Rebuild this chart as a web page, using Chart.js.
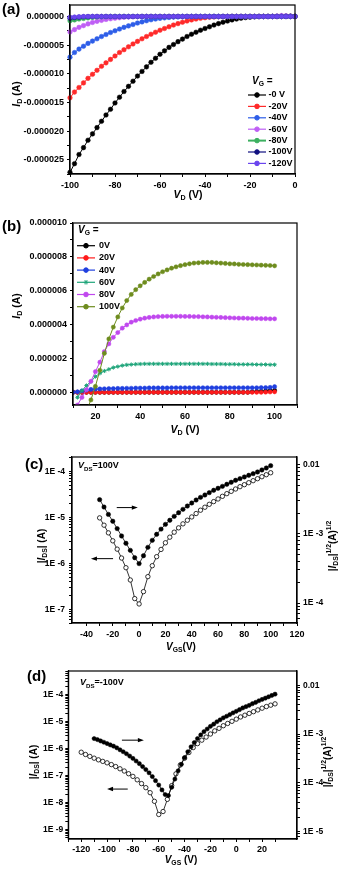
<!DOCTYPE html>
<html><head><meta charset="utf-8">
<script src="https://cdn.jsdelivr.net/npm/chart.js"></script>
<style>
html,body{margin:0;padding:0;background:#fff;width:338px;height:869px;overflow:hidden;position:relative;}
canvas{position:absolute;left:0;top:-30px;}
</style></head><body>
<canvas id="ca" width="338" height="899" style="width:338px;height:899px"></canvas>
<canvas id="cb" width="338" height="899" style="width:338px;height:899px"></canvas>
<canvas id="cc" width="338" height="899" style="width:338px;height:899px"></canvas>
<canvas id="cd" width="338" height="899" style="width:338px;height:899px"></canvas>
<script>
// ---------- DATA ----------
// (a) output curves, I_D in microamps
const aX = [-100,-98,-96,-94,-92,-90,-88,-86,-84,-82,-80,-78,-76,-74,-72,-70,-68,-66,-64,-62,-60,-58,-56,-54,-52,-50,-48,-46,-44,-42,-40,-38,-36,-34,-32,-30,-28,-26,-24,-22,-20,-18,-16,-14,-12,-10,-8,-6,-4,-2,0];
const aLabels = ['-0 V','-20V','-40V','-60V','-80V','-100V','-120V'];
const aVg0   = [-27.2,-25.7,-24.1,-22.9,-21.6,-20.5,-19.4,-18.3,-17.2,-16.2,-15.1,-14.1,-13.1,-12.2,-11.3,-10.4,-9.6,-8.8,-8.0,-7.3,-6.6,-6.0,-5.4,-4.9,-4.4,-3.95,-3.5,-3.1,-2.75,-2.4,-2.1,-1.8,-1.5,-1.25,-1.0,-0.8,-0.6,-0.45,-0.3,-0.2,-0.12,-0.06,-0.02,0,0,0,0,0.02,0.05,0.05,0.02];
const aVg20  = [-14.2,-13.2,-12.4,-11.6,-10.8,-10.1,-9.4,-8.7,-8.1,-7.5,-6.9,-6.3,-5.8,-5.3,-4.8,-4.35,-3.9,-3.5,-3.1,-2.75,-2.4,-2.1,-1.8,-1.5,-1.25,-1.0,-0.8,-0.6,-0.45,-0.32,-0.22,-0.14,-0.08,-0.04,-0.02,0,0,0,0,0,0,0,0,0,0,0,0,0,0,0,0];
const aVg40  = [-7.1,-6.3,-5.7,-5.2,-4.7,-4.3,-3.9,-3.5,-3.15,-2.8,-2.5,-2.2,-1.9,-1.65,-1.4,-1.15,-0.95,-0.75,-0.58,-0.45,-0.33,-0.24,-0.17,-0.11,-0.07,-0.04,-0.02,0,0,0,0,0,0,0,0,0,0,0,0,0,0,0,0,0,0,0,0,0,0,0,0];
const aVg60  = [-2.7,-2.3,-1.9,-1.6,-1.3,-1.05,-0.85,-0.68,-0.52,-0.4,-0.3,-0.22,-0.15,-0.1,-0.06,-0.03,-0.01,0,0,0,0,0,0,0,0,0,0,0,0,0,0,0,0,0,0,0,0,0,0,0,0,0,0,0,0,0,0.08,0.15,0.12,0.05,0.02];
const aVg80  = [-0.75,-0.6,-0.45,-0.35,-0.25,-0.17,-0.1,-0.05,-0.02,0,0,0,0,0,0,0,0,0,0,0,0,0,0,0,0,0,0,0,0,0,0,0,0,0,0,0,0,0,0,0,0,0,0,0,0,0,0,0,0,0,0];
const aVg100 = [-0.3,-0.2,-0.12,-0.06,-0.03,0,0,0,0,0,0,0,0,0,0,0,0,0,0,0,0,0,0,0,0,0,0,0,0,0,0,0,0,0,0,0,0,0,0,0,0,0,0,0,0,0,0,0,0,0,0];
const aVg120 = [-0.15,-0.1,-0.05,0,0,0,0,0,0,0,0,0,0,0,0,0,0,0,0,0,0,0,0,0,0,0,0,0,0,0,0,0,0,0,0,0,0,0,0,0,0,0,0,0,0,0,0,0,0,0,0];

// (b) output curves, I_D in microamps
const bX = [10,12,14,16,18,20,22,24,26,28,30,32,34,36,38,40,42,44,46,48,50,52,54,56,58,60,62,64,66,68,70,72,74,76,78,80,82,84,86,88,90,92,94,96,98,100];
const bLabels = ['0V','20V','40V','60V','80V','100V'];
const bVg0   = [0,0,0,0,0,0,0,0,0,0,0,0,0,0,0,0,0,0,0,0,0,0,0,0,0,0,0,0,0,0,0,0,0,0,0,0,0,0,0,0,0.03,0.05,0.06,0.08,0.1,0.12];
const bVg20  = [0,0,0,0,0,0,0,0,0,0,0,0,0,0,0,0,0,0,0,0,0,0,0,0,0,0,0,0,0,0,0,0,0,0,0,0,0,0,0,0,0,0,0,0.01,0.02,0.03];
const bVg40  = [0,0.03,0.08,0.13,0.17,0.19,0.2,0.21,0.22,0.22,0.23,0.23,0.24,0.24,0.25,0.25,0.25,0.26,0.26,0.26,0.26,0.26,0.27,0.27,0.27,0.27,0.27,0.27,0.27,0.27,0.27,0.27,0.27,0.27,0.27,0.27,0.27,0.27,0.27,0.27,0.27,0.27,0.28,0.28,0.29,0.33];
const bVg60  = [null,-0.3,0.1,0.4,0.63,0.93,1.12,1.26,1.36,1.46,1.52,1.58,1.62,1.64,1.66,1.67,1.68,1.68,1.68,1.68,1.68,1.68,1.68,1.68,1.68,1.68,1.68,1.68,1.68,1.68,1.68,1.67,1.67,1.67,1.66,1.66,1.66,1.65,1.65,1.65,1.65,1.64,1.64,1.64,1.63,1.63];
const bVg80  = [null,-0.75,-0.3,0.15,0.65,1.22,1.78,2.41,2.86,3.25,3.53,3.79,3.98,4.14,4.24,4.32,4.38,4.42,4.45,4.47,4.48,4.49,4.49,4.49,4.49,4.48,4.48,4.47,4.47,4.46,4.45,4.44,4.43,4.42,4.41,4.40,4.39,4.38,4.38,4.37,4.36,4.36,4.35,4.35,4.34,4.34];
const bVg100 = [null,null,null,-1.1,-0.45,0.35,1.3,2.3,3.15,3.85,4.45,4.98,5.42,5.78,6.06,6.29,6.49,6.68,6.84,6.99,7.12,7.23,7.33,7.41,7.48,7.54,7.59,7.63,7.65,7.67,7.67,7.67,7.65,7.63,7.61,7.59,7.58,7.56,7.55,7.54,7.53,7.52,7.51,7.50,7.49,7.47];

// (c) transfer, V_DS = 100 V
const cX = [-30,-26.67,-23.33,-20,-16.67,-13.33,-10,-6.67,-3.33,0,3.33,6.67,10,13.33,16.67,20,23.33,26.67,30,33.33,36.67,40,43.33,46.67,50,53.33,56.67,60,63.33,66.67,70,73.33,76.67,80,83.33,86.67,90,93.33,96.67,100];
const cIds = [9.73e-6,6.75e-6,4.59e-6,3.08e-6,2.03e-6,1.30e-6,8.0e-7,4.32e-7,1.7e-7,1.30e-7,2.41e-7,5.11e-7,8.84e-7,1.39e-6,2.00e-6,2.79e-6,3.70e-6,4.75e-6,5.90e-6,7.21e-6,8.65e-6,1.02e-5,1.21e-5,1.43e-5,1.66e-5,1.92e-5,2.20e-5,2.51e-5,2.87e-5,3.28e-5,3.68e-5,4.14e-5,4.65e-5,5.14e-5,5.68e-5,6.28e-5,6.94e-5,7.66e-5,8.47e-5,9.35e-5];
const cSqrt = [3.12e-3,2.44e-3,1.91e-3,1.52e-3,1.19e-3,9.31e-4,7.30e-4,5.77e-4,4.52e-4,3.71e-4,4.83e-4,6.38e-4,8.05e-4,9.84e-4,1.17e-3,1.37e-3,1.57e-3,1.79e-3,2.02e-3,2.26e-3,2.52e-3,2.79e-3,3.08e-3,3.37e-3,3.64e-3,3.94e-3,4.26e-3,4.55e-3,4.86e-3,5.20e-3,5.56e-3,5.94e-3,6.28e-3,6.64e-3,7.01e-3,7.41e-3,7.83e-3,8.38e-3,8.95e-3,9.68e-3];

// (d) transfer, V_DS = -100 V
const dOpenX = [-120,-116.67,-113.33,-110,-106.67,-103.33,-100,-96.67,-93.33,-90,-86.67,-83.33,-80,-76.67,-73.33,-70,-66.67,-63.33,-60,-56.67,-53.33,-50,-46.67,-43.33,-40,-36.67,-33.33,-30,-26.67,-23.33,-20,-16.67,-13.33,-10,-6.67,-3.33,0,3.33,6.67,10,13.33,16.67,20,23.33,26.67,30];
const dIds = [7.28e-7,6.0e-7,5.1e-7,4.38e-7,3.8e-7,3.33e-7,2.94e-7,2.53e-7,2.14e-7,1.77e-7,1.46e-7,1.16e-7,9.24e-8,6.9e-8,5.0e-8,3.53e-8,2.3e-8,1.1e-8,3.57e-9,4.6e-9,1.3e-8,4.19e-8,1.15e-7,2.45e-7,4.38e-7,7.1e-7,1.08e-6,1.52e-6,2.04e-6,2.66e-6,3.45e-6,4.5e-6,5.6e-6,7.0e-6,8.5e-6,1.02e-5,1.23e-5,1.48e-5,1.72e-5,2.0e-5,2.32e-5,2.7e-5,3.13e-5,3.6e-5,4.05e-5,4.53e-5];
const dFillX = [-110,-107.5,-105,-102.5,-100,-97.5,-95,-92.5,-90,-87.5,-85,-82.5,-80,-77.5,-75,-72.5,-70,-67.5,-65,-62.5,-60,-57.5,-55,-52.5,-50,-47.5,-45,-42.5,-40,-37.5,-35,-32.5,-30,-27.5,-25,-22.5,-20,-17.5,-15,-12.5,-10,-7.5,-5,-2.5,0,2.5,5,7.5,10,12.5,15,17.5,20,22.5,25,27.5,30];
const dSqrt = [8.09e-4,7.71e-4,7.24e-4,6.81e-4,6.40e-4,6.01e-4,5.66e-4,5.24e-4,4.77e-4,4.35e-4,3.96e-4,3.55e-4,3.18e-4,2.81e-4,2.48e-4,2.16e-4,1.88e-4,1.61e-4,1.35e-4,1.11e-4,9.05e-5,7.18e-5,5.77e-5,5.51e-5,8.13e-5,1.20e-4,1.77e-4,2.41e-4,3.29e-4,4.35e-4,5.48e-4,6.71e-4,8.09e-4,9.60e-4,1.12e-3,1.27e-3,1.44e-3,1.60e-3,1.79e-3,1.96e-3,2.15e-3,2.32e-3,2.51e-3,2.72e-3,2.93e-3,3.17e-3,3.43e-3,3.65e-3,3.88e-3,4.19e-3,4.46e-3,4.82e-3,5.13e-3,5.45e-3,5.81e-3,6.18e-3,6.57e-3];

// ---------- HELPERS ----------
const OFF = 30, W = 338, H = 869;
const FAM = "'Liberation Sans', Arial, Helvetica, sans-serif";
function fnt(size, italic){ return (italic ? 'italic ' : '') + 'bold ' + size + 'px ' + FAM; }
function isMult(v, m){ return Math.abs(v/m - Math.round(v/m)) < 1e-6; }
function isPow10(v){ const l = Math.log10(v); return Math.abs(l - Math.round(l)) < 1e-6; }
function logTicks(min, max){
  const out = [];
  for (let e = Math.floor(Math.log10(min)); e <= Math.ceil(Math.log10(max)); e++)
    for (let k = 1; k <= 9; k++){ const v = k*Math.pow(10, e); if (v >= min*0.9999 && v <= max*1.0001) out.push({value: v}); }
  return out;
}
function rich(ctx, parts, x, y, size, align, rot){
  ctx.save(); ctx.translate(x, y + OFF); if (rot) ctx.rotate(rot);
  ctx.textBaseline = 'middle'; ctx.textAlign = 'left'; ctx.fillStyle = '#000';
  let w = 0;
  const items = parts.map(p => {
    const t = p[0], st = p[1] || '';
    const small = st === 'sub' || st === 'sup';
    const f = fnt(small ? size*0.68 : size, st === 'i');
    ctx.font = f;
    const it = {t, f, dx: w, dy: st === 'sub' ? size*0.32 : st === 'sup' ? -size*0.36 : 0};
    w += ctx.measureText(t).width;
    return it;
  });
  const x0 = align === 'center' ? -w/2 : align === 'right' ? -w : 0;
  items.forEach(it => { ctx.font = it.f; ctx.fillText(it.t, x0 + it.dx, it.dy); });
  ctx.restore();
}
function arrow(ctx, x1, x2, y){
  const dir = Math.sign(x2 - x1);
  ctx.save(); ctx.strokeStyle = '#000'; ctx.fillStyle = '#000'; ctx.lineWidth = 1;
  ctx.beginPath(); ctx.moveTo(x1, y); ctx.lineTo(x2 - dir*4, y); ctx.stroke();
  ctx.beginPath(); ctx.moveTo(x2, y); ctx.lineTo(x2 - dir*6, y - 2.2); ctx.lineTo(x2 - dir*6, y + 2.2); ctx.closePath(); ctx.fill();
  ctx.restore();
}
function marker(ctx, style, x, y, r, color){
  ctx.save(); ctx.fillStyle = color; ctx.strokeStyle = color; ctx.lineWidth = 1;
  if (Chart.helpers && Chart.helpers.drawPoint) {
    Chart.helpers.drawPoint(ctx, {pointStyle: style, radius: r, borderWidth: 1, rotation: 0}, x, y);
  } else { ctx.beginPath(); ctx.arc(x, y, r, 0, Math.PI*2); ctx.fill(); }
  ctx.restore();
}
function ser(xs, ys, color, o){
  return Object.assign({
    data: xs.map((x, i) => ({x: x, y: ys[i]})),
    borderColor: color, backgroundColor: color, pointBackgroundColor: color, pointBorderColor: color,
    borderWidth: 1, pointRadius: 2.2, pointBorderWidth: 0.5, pointStyle: 'circle', tension: 0, spanGaps: false
  }, o || {});
}
const tickFont = {family: FAM, size: 9, weight: 'bold'};
const logFont = {family: FAM, size: 8.5, weight: 'bold'};
function grid(){ return {display: true, drawOnChartArea: false, drawTicks: true, tickLength: 3, color: '#000', lineWidth: 1}; }
const border = {display: true, color: '#000', width: 1.2};
function linX(min, max, bottom, pad){
  return {type: 'linear', position: 'bottom', min, max,
    afterFit: s => { s.height = H - bottom; },
    afterBuildTicks: s => { s.ticks = s.ticks.filter(t => isMult(t.value, 10)); },
    ticks: {stepSize: 10, autoSkip: false, maxRotation: 0, minRotation: 0, color: '#000', font: tickFont, padding: pad,
      callback: v => isMult(v, 20) ? String(Math.round(v)) : ''},
    grid: grid(), border};
}
function linY(min, max, step, labStep, width){
  return {type: 'linear', position: 'left', min, max,
    afterFit: s => { s.width = width; },
    afterBuildTicks: s => { s.ticks = s.ticks.filter(t => isMult(t.value, step)); },
    ticks: {stepSize: step, autoSkip: false, color: '#000', font: tickFont, padding: 3,
      callback: v => isMult(v, labStep) ? (v*1e-6).toFixed(6) : ''},
    grid: grid(), border};
}
function logY(min, max, pos, width, fmt, pad){
  return {type: 'logarithmic', position: pos, min, max,
    afterFit: s => { s.width = width; },
    afterBuildTicks: s => { s.ticks = logTicks(min, max); },
    ticks: {autoSkip: false, color: '#000', font: logFont, padding: pad,
      callback: v => isPow10(v) ? fmt(Math.round(Math.log10(v))) : ''},
    grid: grid(), border};
}
const fmtL = e => '1E -' + (-e);
const fmtR = e => e === -2 ? '0.01' : '1E -' + (-e);

function mk(id, area, datasets, scales, deco){
  return new Chart(document.getElementById(id).getContext('2d'), {
    type: 'line',
    data: {datasets},
    options: {
      responsive: false, animation: false, events: [], devicePixelRatio: 1,
      layout: {padding: {left: 0, top: area.t + OFF, right: area.padR, bottom: 0}},
      plugins: {legend: {display: false}, tooltip: {enabled: false}, title: {display: false}},
      scales
    },
    plugins: [{id: 'deco', afterDraw(ch){
      const c = ch.ctx, a = ch.chartArea;
      c.save(); c.strokeStyle = '#000'; c.lineWidth = 1.2;
      c.strokeRect(a.left, a.top, a.right - a.left, a.bottom - a.top); c.restore();
      deco(ch, c);
    }}]
  });
}

// ---------- PANEL (a) ----------
const aColors = ['#000000','#ff2a2a','#2e5ee8','#bf5ff5','#3cb060','#101080','#6a45ee'];
const aSeries = [aVg0, aVg20, aVg40, aVg60, aVg80, aVg100, aVg120];
mk('ca', {t: 5, padR: W - 295},
  aSeries.map((ys, i) => ser(aX, ys, aColors[i], {label: aLabels[i], order: 7 - i, clip: 4, pointRadius: 2.3,
    borderWidth: i === 4 ? 2 : 1})),
  {x: linX(-100, 0, 174, 3), y: linY(-27.5, 2, 2.5, 5, 70)},
  (ch, c) => {
    c.save(); c.font = fnt(15); c.fillStyle = '#000'; c.textBaseline = 'middle'; c.fillText('(a)', 2, 10 + OFF); c.restore();
    rich(c, [['I','i'],['D','sub'],[' (A)']], 17, 94, 10.5, 'center', -Math.PI/2);
    rich(c, [['V','i'],['D','sub'],[' (V)']], 188, 195, 10.5, 'center');
    rich(c, [['V','i'],['G','sub'],[' =']], 252, 81, 10, 'left');
    aLabels.forEach((lab, i) => {
      const y = 95 + i*11.4 + OFF;
      c.save(); c.strokeStyle = aColors[i]; c.lineWidth = i === 4 ? 2 : 1.2;
      c.beginPath(); c.moveTo(248, y); c.lineTo(266, y); c.stroke(); c.restore();
      marker(c, 'circle', 257, y, 2.3, aColors[i]);
      c.save(); c.font = fnt(9); c.fillStyle = '#000'; c.textBaseline = 'middle'; c.fillText(lab, 268.5, y); c.restore();
    });
  });

// ---------- PANEL (b) ----------
const bColors = ['#000000','#ff1a1a','#1f3fdf','#1fa57a','#c048ee','#6e8c1e'];
const bStyles = ['circle','circle','circle','star','circle','circle'];
const bSeries = [bVg0, bVg20, bVg40, bVg60, bVg80, bVg100];
mk('cb', {t: 223, padR: W - 297},
  bSeries.map((ys, i) => ser(bX, ys, bColors[i], {label: bLabels[i], order: 6 - i, clip: 0, pointRadius: 2.1,
    pointStyle: bStyles[i], pointBorderWidth: bStyles[i] === 'star' ? 1 : 0.5})),
  {x: linX(10, 110, 405, 3), y: linY(-0.75, 10, 1, 2, 73)},
  (ch, c) => {
    c.save(); c.font = fnt(15); c.fillStyle = '#000'; c.textBaseline = 'middle'; c.fillText('(b)', 2, 226.5 + OFF); c.restore();
    rich(c, [['I','i'],['D','sub'],[' (A)']], 17, 306, 10.5, 'center', -Math.PI/2);
    rich(c, [['V','i'],['D','sub'],[' (V)']], 185, 430, 10.5, 'center');
    rich(c, [['V','i'],['G','sub'],[' =']], 78, 230, 10, 'left');
    bLabels.forEach((lab, i) => {
      const y = 245.7 + i*12.2 + OFF;
      c.save(); c.strokeStyle = bColors[i]; c.lineWidth = 1.2;
      c.beginPath(); c.moveTo(77, y); c.lineTo(95, y); c.stroke(); c.restore();
      marker(c, bStyles[i], 86, y, 2.3, bColors[i]);
      c.save(); c.font = fnt(9); c.fillStyle = '#000'; c.textBaseline = 'middle'; c.fillText(lab, 99, y); c.restore();
    });
  });

// ---------- PANEL (c) ----------
mk('cc', {t: 457, padR: 0},
  [ser(cX, cSqrt, '#000', {yAxisID: 'y2', order: 1, pointRadius: 2.2, borderWidth: 0.8}),
   ser(cX, cIds, '#000', {yAxisID: 'y', order: 2, pointRadius: 2.2, borderWidth: 0.8, pointBackgroundColor: '#fff', pointBorderWidth: 0.8})],
  {x: linX(-51, 120, 623, 3),
   y: logY(5e-8, 2.06e-4, 'left', 72, fmtL, 4),
   y2: logY(5.14e-5, 0.0129, 'right', W - 297, fmtR, 3)},
  (ch, c) => {
    const x = ch.scales.x, y = ch.scales.y;
    c.save(); c.font = fnt(15); c.fillStyle = '#000'; c.textBaseline = 'middle'; c.fillText('(c)', 25, 464.5 + OFF); c.restore();
    rich(c, [['|'],['I','i'],['DS','sub'],['| (A)']], 42, 546, 10, 'center', -Math.PI/2);
    rich(c, [['|'],['I','i'],['DS','sub'],['|'],['1/2','sup'],['(A)'],['1/2','sup']], 333, 546, 10, 'center', -Math.PI/2);
    rich(c, [['V','i'],['GS','sub'],['(V)']], 181, 647, 10, 'center');
    rich(c, [['V','i'],['DS','sub'],['=100V']], 78, 466, 9, 'left');
    arrow(c, x.getPixelForValue(-17), x.getPixelForValue(-1), y.getPixelForValue(1.63e-5));
    arrow(c, x.getPixelForValue(-19.8), x.getPixelForValue(-36.6), y.getPixelForValue(1.26e-6));
  });

// ---------- PANEL (d) ----------
mk('cd', {t: 671, padR: 0},
  [ser(dFillX, dSqrt, '#000', {yAxisID: 'y2', order: 1, pointRadius: 2.1, borderWidth: 0.8}),
   ser(dOpenX, dIds, '#000', {yAxisID: 'y', order: 2, pointRadius: 2.2, borderWidth: 0.8, pointBackgroundColor: '#fff', pointBorderWidth: 0.8})],
  {x: linX(-130, 47, 839, 2),
   y: logY(4.4e-10, 7.5e-4, 'left', 68.3, fmtL, 2),
   y2: logY(7.1e-6, 0.0196, 'right', W - 297, fmtR, 3)},
  (ch, c) => {
    const x = ch.scales.x, y = ch.scales.y;
    c.save(); c.font = fnt(15); c.fillStyle = '#000'; c.textBaseline = 'middle'; c.fillText('(d)', 27, 676.5 + OFF); c.restore();
    rich(c, [['|'],['I','i'],['DS','sub'],['| (A)']], 34, 762, 10, 'center', -Math.PI/2);
    rich(c, [['|'],['I','i'],['DS','sub'],['|'],['1/2','sup'],['(A)'],['1/2','sup']], 328, 762, 10, 'center', -Math.PI/2);
    rich(c, [['V','i'],['GS','sub'],[' (V)']], 181, 860, 10, 'center');
    rich(c, [['V','i'],['DS','sub'],['=-100V']], 80, 683, 9, 'left');
    arrow(c, x.getPixelForValue(-88.5), x.getPixelForValue(-71.5), y.getPixelForValue(2.04e-6));
    arrow(c, x.getPixelForValue(-84), x.getPixelForValue(-100), y.getPixelForValue(3.13e-8));
  });
</script>
</body></html>
